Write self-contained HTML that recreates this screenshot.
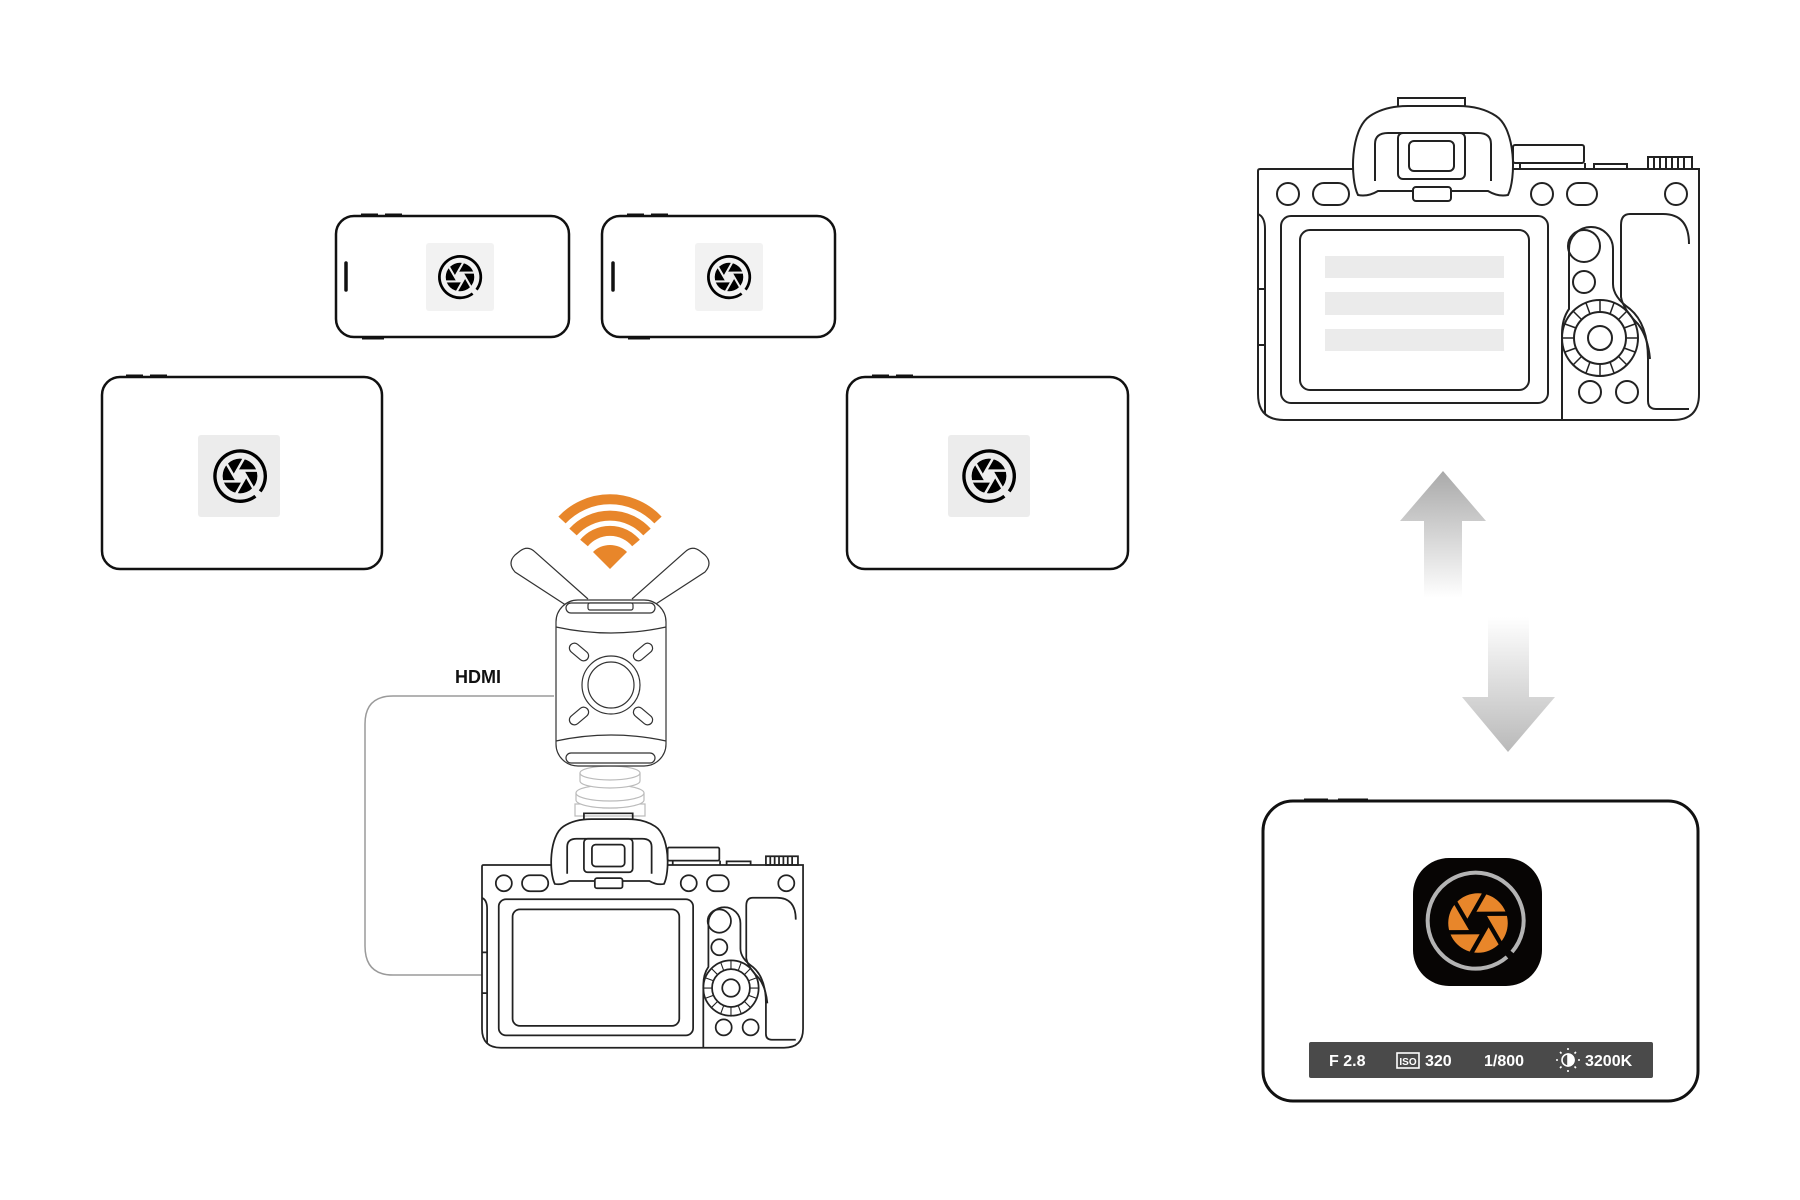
<!DOCTYPE html>
<html><head><meta charset="utf-8"><style>
html,body{margin:0;padding:0;background:#fff;}
svg{display:block;}
text{font-family:"Liberation Sans",sans-serif;}
</style></head><body>
<svg width="1800" height="1200" viewBox="0 0 1800 1200" xmlns="http://www.w3.org/2000/svg">
<defs>
  <g id="blades">
    <circle r="0.62" fill="currentColor"/>
    <polygon points="0.22,0 0.11,0.19 -0.11,0.19 -0.22,0 -0.11,-0.19 0.11,-0.19" fill="var(--bg)"/>
    <g stroke="var(--bg)" stroke-width="0.09">
      <line x1="0.22" y1="0" x2="-0.14" y2="0.63"/>
      <line x1="0.22" y1="0" x2="-0.14" y2="0.63" transform="rotate(60)"/>
      <line x1="0.22" y1="0" x2="-0.14" y2="0.63" transform="rotate(120)"/>
      <line x1="0.22" y1="0" x2="-0.14" y2="0.63" transform="rotate(180)"/>
      <line x1="0.22" y1="0" x2="-0.14" y2="0.63" transform="rotate(240)"/>
      <line x1="0.22" y1="0" x2="-0.14" y2="0.63" transform="rotate(300)"/>
    </g>
  </g>
  <g id="apblack" style="color:#000;--bg:#eee">
    <path d="M0.55,0.72 A0.9,0.9 0 1 1 0.72,0.55" fill="none" stroke="#000" stroke-width="0.12"/>
    <use href="#blades"/>
  </g>
  <linearGradient id="gup" x1="0" y1="0" x2="0" y2="1">
    <stop offset="0" stop-color="#a9a9a9"/><stop offset="1" stop-color="#fff"/>
  </linearGradient>
  <linearGradient id="gdn" x1="0" y1="0" x2="0" y2="1">
    <stop offset="0" stop-color="#fff"/><stop offset="1" stop-color="#b9b9b9"/>
  </linearGradient>
  <g id="cam" fill="none" stroke="#222">
    <path d="M0,2 Q0,0 2,0 L441,0 L441,225 Q441,251 415,251 L26,251 Q0,251 0,225 Z"/>
    <path d="M0,45 Q7,48 7,60 L7,245 M0,120 L7,120 M0,176 L7,176"/>
    <path d="M140,-63 L140,-71 L207,-71 L207,-63"/>
    <path d="M100,26 C92,10 92,-40 112,-53 Q127,-63 150,-63 L200,-63 Q223,-63 238,-53 C258,-40 258,10 250,26 Q240,28 230,22 L120,22 Q110,28 100,26 Z" fill="#fff"/>
    <path d="M117,12 L117,-25 Q117,-36 130,-36 L220,-36 Q233,-36 233,-25 L233,12"/>
    <rect x="140" y="-36" width="67" height="46" rx="5"/>
    <rect x="151" y="-28" width="45" height="30" rx="5"/>
    <rect x="155" y="18" width="38" height="14" rx="3" fill="#fff"/>
    <rect x="255" y="-24" width="71" height="18" rx="2"/>
    <path d="M262,-6 L262,0 M327,-6 L327,0 M336,0 L336,-5 L369,-5 L369,0"/>
    <rect x="390" y="-12" width="44" height="12"/>
    <path d="M396,-12 V0 M402,-12 V0 M408,-12 V0 M414,-12 V0 M420,-12 V0 M426,-12 V0"/>
    <circle cx="30" cy="25" r="11"/>
    <rect x="55" y="14" width="36" height="22" rx="11"/>
    <circle cx="284" cy="25" r="11"/>
    <rect x="309" y="14" width="30" height="22" rx="11"/>
    <circle cx="418" cy="25" r="11"/>
    <rect x="23" y="47" width="267" height="187" rx="10"/>
    <rect x="42" y="61" width="229" height="160" rx="10"/>
    <path d="M304,251 L304,165 Q304,150 311,140 L311,80 A22,22 0 0 1 355,80 L355,115 Q355,128 372,140 Q390,155 390,190 L390,232 Q390,240 398,240 L431,240"/>
    <path d="M431,75 Q431,45 405,45 L372,45 Q363,45 363,56 L363,128 Q365,140 380,155 Q390,168 392,190"/>
    <circle cx="326" cy="77" r="16"/>
    <circle cx="326" cy="113" r="11"/>
    <circle cx="342" cy="169" r="38"/>
    <circle cx="342" cy="169" r="26"/>
    <circle cx="342" cy="169" r="12"/>
    <g stroke-width="1.5">
      <path d="M368,169 L380,169 M304,169 L316,169 M342,143 L342,131 M342,195 L342,207 M360,151 L369,142 M324,151 L315,142 M360,187 L369,196 M324,187 L315,196 M366,159 L377,155 M318,159 L307,155 M366,179 L377,183 M318,179 L307,183 M352,145 L356,134 M332,145 L328,134 M352,193 L356,204 M332,193 L328,204"/>
    </g>
    <circle cx="332" cy="223" r="11"/>
    <circle cx="369" cy="223" r="11"/>
  </g>
</defs>

<!-- phones -->
<g fill="none" stroke="#111" stroke-width="2.5">
  <rect x="336" y="216" width="233" height="121" rx="18"/>
  <rect x="602" y="216" width="233" height="121" rx="18"/>
  <rect x="102" y="377" width="280" height="192" rx="18"/>
  <rect x="847" y="377" width="281" height="192" rx="18"/>
  <rect x="1263" y="801" width="435" height="300" rx="30" stroke-width="3"/>
</g>
<g stroke="#111" stroke-width="3">
  <line x1="361" y1="215" x2="378" y2="215"/><line x1="385" y1="215" x2="402" y2="215"/>
  <line x1="362" y1="338" x2="384" y2="338"/>
  <line x1="627" y1="215" x2="644" y2="215"/><line x1="651" y1="215" x2="668" y2="215"/>
  <line x1="628" y1="338" x2="650" y2="338"/>
  <line x1="126" y1="376" x2="143" y2="376"/><line x1="150" y1="376" x2="167" y2="376"/>
  <line x1="872" y1="376" x2="889" y2="376"/><line x1="896" y1="376" x2="913" y2="376"/>
  <line x1="1304" y1="800" x2="1328" y2="800"/><line x1="1338" y1="800" x2="1368" y2="800"/>
  <line x1="346" y1="263" x2="346" y2="290" stroke-width="3.5" stroke-linecap="round"/>
  <line x1="613" y1="263" x2="613" y2="290" stroke-width="3.5" stroke-linecap="round"/>
</g>
<rect x="426" y="243" width="68" height="68" fill="#f2f2f2" rx="3"/>
<rect x="695" y="243" width="68" height="68" fill="#f2f2f2" rx="3"/>
<rect x="198" y="435" width="82" height="82" fill="#ececec" rx="3"/>
<rect x="948" y="435" width="82" height="82" fill="#ececec" rx="3"/>
<use href="#apblack" transform="translate(460,277) scale(23)" style="--bg:#f2f2f2"/>
<use href="#apblack" transform="translate(729,277) scale(23)" style="--bg:#f2f2f2"/>
<use href="#apblack" transform="translate(240,476) scale(28)"/>
<use href="#apblack" transform="translate(989,476) scale(28)"/>

<!-- big camera -->
<g transform="translate(1258,169)" stroke-width="2">
  <rect x="67" y="87" width="179" height="22" fill="#ebebeb"/>
  <rect x="67" y="123" width="179" height="23" fill="#ebebeb"/>
  <rect x="67" y="160" width="179" height="22" fill="#ebebeb"/>
  <use href="#cam"/>
</g>

<!-- arrows -->
<polygon points="1443,471 1486,521 1462,521 1462,598 1424,598 1424,521 1400,521" fill="url(#gup)"/>
<polygon points="1488,617 1529,617 1529,697 1555,697 1508,752 1462,697 1488,697" fill="url(#gdn)"/>

<!-- app screen -->
<rect x="1413" y="858" width="129" height="128" rx="36" fill="#070504"/>
<path d="M1507,957 A48,48 0 1 1 1512,952" fill="none" stroke="#b4b4b4" stroke-width="4"/>
<use href="#blades" transform="translate(1478,923) scale(48)" style="color:#e8862a;--bg:#070504"/>
<rect x="1309" y="1042" width="344" height="36" rx="2" fill="#4a4a4a"/>
<g fill="#fff" font-size="16" font-weight="bold">
  <text x="1329" y="1066">F 2.8</text>
  <text x="1425" y="1066">320</text>
  <text x="1484" y="1066">1/800</text>
  <text x="1585" y="1066">3200K</text>
</g>
<rect x="1397" y="1053" width="22" height="15" fill="none" stroke="#fff" stroke-width="1.6"/>
<text x="1408" y="1065" font-size="10" font-weight="bold" fill="#fff" text-anchor="middle">ISO</text>
<g stroke="#fff" stroke-width="1.6" fill="none">
  <circle cx="1568" cy="1060" r="6"/>
  <path d="M1568,1054 A6,6 0 0 1 1568,1066 Z" fill="#fff"/>
  <path d="M1568,1048 v2 M1568,1070 v2 M1556,1060 h2 M1578,1060 h2 M1560,1052 l1.5,1.5 M1576,1052 l-1.5,1.5 M1560,1068 l1.5,-1.5 M1576,1068 l-1.5,-1.5"/>
</g>

<!-- HDMI cable -->
<path d="M554,696 L393,696 Q365,696 365,724 L365,946 Q365,975 393,975 L482,975" fill="none" stroke="#9a9a9a" stroke-width="1.5"/>
<text x="455" y="683" font-size="18" font-weight="bold" fill="#111">HDMI</text>

<!-- wifi -->
<g fill="none" stroke="#e8862a" stroke-width="10">
  <path d="M562,520 A66,66 0 0 1 658,520"/>
  <path d="M573,532 A50,50 0 0 1 647,532"/>
  <path d="M584,543 A34,34 0 0 1 636,543"/>
</g>
<path d="M610,569 L593,552 A24,24 0 0 1 627,552 Z" fill="#e8862a"/>

<!-- transmitter -->
<g fill="#fff" stroke="#333" stroke-width="1.2">
  <path d="M578,613 L515,572 Q507,563 515,555 L520,551 Q528,545 535,552 L588,599"/>
  <path d="M642,613 L705,572 Q713,563 705,555 L700,551 Q692,545 685,552 L632,599"/>
  <g stroke="#bbb">
    <rect x="575" y="804" width="70" height="12"/>
    <rect x="603" y="778" width="14" height="30"/>
    <path d="M576,793 v7 a34,8 0 0 0 68,0 v-7"/>
    <ellipse cx="610" cy="793" rx="34" ry="8"/>
    <path d="M580,773 v8 a30,7 0 0 0 60,0 v-8"/>
    <ellipse cx="610" cy="773" rx="30" ry="7"/>
  </g>
  <rect x="556" y="600" width="110" height="166" rx="22"/>
  <path d="M556,627 Q611,639 666,627 M556,741 Q611,729 666,741" fill="none"/>
  <rect x="566" y="603" width="89" height="10" rx="5"/>
  <rect x="588" y="603" width="45" height="7" rx="2"/>
  <rect x="566" y="753" width="89" height="10" rx="5"/>
  <circle cx="611" cy="685" r="29"/>
  <circle cx="611" cy="685" r="23"/>
  <rect x="568" y="647" width="22" height="10" rx="5" transform="rotate(40 579 652)"/>
  <rect x="632" y="647" width="22" height="10" rx="5" transform="rotate(-40 643 652)"/>
  <rect x="568" y="711" width="22" height="10" rx="5" transform="rotate(-40 579 716)"/>
  <rect x="632" y="711" width="22" height="10" rx="5" transform="rotate(40 643 716)"/>
</g>

<!-- small camera -->
<g transform="translate(482,865) scale(0.728)" stroke-width="2.4">
  <use href="#cam"/>
</g>
</svg>
</body></html>
